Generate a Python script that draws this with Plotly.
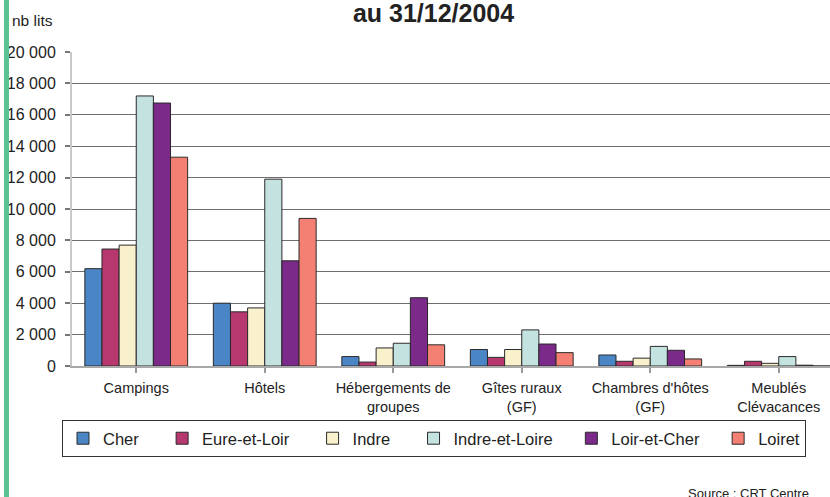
import plotly.graph_objects as go

categories = ["Campings", "Hôtels", "Hébergements de<br>groupes", "Gîtes ruraux<br>(GF)",
              "Chambres d'hôtes<br>(GF)", "Meublés<br>Clévacances"]
series_names = ["Cher", "Eure-et-Loir", "Indre", "Indre-et-Loire", "Loir-et-Cher", "Loiret"]
cher = [6200, 4000, 600, 1050, 700, 40]
eure_et_loir = [7450, 3450, 250, 550, 300, 300]
indre = [7700, 3700, 1150, 1050, 500, 170]
indre_et_loire = [17200, 11900, 1450, 2300, 1250, 600]
loir_et_cher = [16750, 6700, 4350, 1400, 1000, 50]
loiret = [13300, 9400, 1350, 850, 450, 0]
colors = ["#4a86c6", "#b7386f", "#f9f1cb", "#c4e3e0", "#7b2a8a", "#f48073"]
y_tickvals = [0, 2000, 4000, 6000, 8000, 10000, 12000, 14000, 16000, 18000, 20000]
y_ticktext = ["0", "2 000", "4 000", "6 000", "8 000", "10 000", "12 000", "14 000",
              "16 000", "18 000", "20 000"]

all_values = [cher, eure_et_loir, indre, indre_et_loire, loir_et_cher, loiret]

W, H = 830, 497
L, R, T, B = 72, 0, 52, 131
pw, ph = W - L - R, H - T - B

def px(x):
    return (x - L) / pw

def py(y):
    return (H - B - y) / ph

fig = go.Figure()
pads = ["\u00a0" * 4, "\u00a0" * 4, "\u00a0" * 4, "\u00a0" * 3, "\u00a0" * 3, ""]
for name, vals, col, pad in zip(series_names, all_values, colors, pads):
    fig.add_trace(go.Bar(
        x=list(range(len(categories))), y=vals, name=name + pad,
        marker=dict(color=col, line=dict(color="#2a2a2a", width=1)),
    ))

fig.update_layout(
    width=W, height=H,
    margin=dict(l=L, r=R, t=T, b=B, pad=0, autoexpand=False),
    paper_bgcolor="white", plot_bgcolor="white",
    barmode="group", bargap=0.2, bargroupgap=0,
    font=dict(family="Liberation Sans, Arial, sans-serif", color="#222222"),
    title=dict(text="<b>au 31/12/2004</b>", x=433.5 / W, xanchor="center",
               y=1 - 4 / H, yanchor="top", font=dict(size=25, color="#222222")),
    xaxis=dict(
        range=[-0.5, -0.5 + pw / 128.5],
        tickvals=list(range(len(categories))), ticktext=categories,
        tickson="boundaries", ticks="outside", ticklen=5, tickcolor="#999999", tickwidth=2,
        showline=True, linecolor="#a8a8a8", linewidth=2,
        showgrid=False, zeroline=False,
        tickfont=dict(size=14.5, color="#222222"),
        ticklabelstandoff=3,
    ),
    yaxis=dict(
        range=[0, 20000], tickvals=y_tickvals, ticktext=y_ticktext,
        ticks="outside", ticklen=5, tickcolor="#777777", tickwidth=1.5,
        showline=True, linecolor="#c8c8c8", linewidth=2,
        showgrid=True, gridcolor="#6e6e6e", gridwidth=1.3, zeroline=False,
        tickfont=dict(size=16, color="#222222"),
        ticklabelstandoff=6,
    ),
    legend=dict(
        orientation="h", x=px(62), xanchor="left", y=py(420), yanchor="top",
        bordercolor="#333333", borderwidth=1, bgcolor="white",
        font=dict(size=16.5, color="#222222"), traceorder="normal",
    ),
    showlegend=True,
)

fig.add_shape(type="rect", xref="paper", yref="paper",
              x0=px(4), x1=px(9), y0=py(H + 2), y1=py(-2),
              fillcolor="#5cc393", line=dict(width=0), layer="above")

fig.add_annotation(text="nb lits", xref="paper", yref="paper", x=px(10), y=py(20),
                   xanchor="left", yanchor="middle", showarrow=False,
                   font=dict(size=15.5, color="#222222"))
fig.add_annotation(text="Source : CRT Centre", xref="paper", yref="paper", x=px(811), y=py(493),
                   xanchor="right", yanchor="middle", showarrow=False,
                   font=dict(size=13, color="#222222"))

fig.write_html("out.html", config={"displayModeBar": False},
               post_script="document.body.style.margin='0';document.body.style.overflow='hidden';")
